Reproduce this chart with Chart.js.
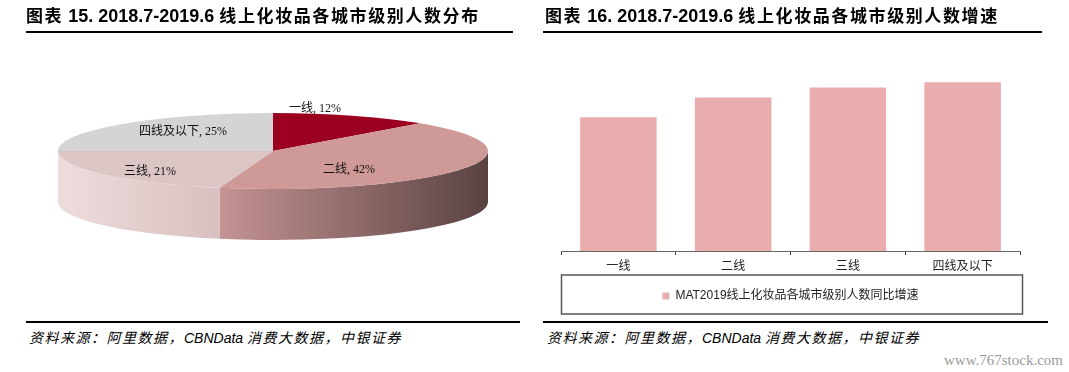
<!DOCTYPE html>
<html><head><meta charset="utf-8">
<script src="https://cdn.jsdelivr.net/npm/chart.js@4"></script>
<style>
html,body{margin:0;padding:0;background:#fff;}
body{width:1069px;height:372px;position:relative;overflow:hidden;}
.title{position:absolute;top:4px;font-size:17px;font-weight:bold;color:#000;white-space:nowrap;line-height:22px;z-index:2;}
.title .c{font-family:'Noto Sans CJK SC';letter-spacing:1.6px;}
.title .l{font-family:'Liberation Sans Narrow','Liberation Sans';font-size:18px;}
.rule{position:absolute;height:2px;background:#000;}
.src{position:absolute;top:327px;font-size:14px;font-style:italic;white-space:nowrap;line-height:20px;color:#000;}
.src .c{font-family:'Noto Sans CJK SC';letter-spacing:1.5px;}
.src .l{font-family:'Liberation Sans';}
.wm{position:absolute;right:6px;top:350px;font-family:'Liberation Serif';font-size:15px;color:#9a9a9a;line-height:20px;}
canvas{position:absolute;}
</style>
</head>
<body>
<div class="title" style="left:26px"><span class="c">图表</span><span class="l"> 15. 2018.7-2019.6 </span><span class="c">线上化妆品各城市级别人数分布</span></div>
<div class="title" style="left:545px"><span class="c">图表</span><span class="l"> 16. 2018.7-2019.6 </span><span class="c">线上化妆品各城市级别人数增速</span></div>
<div class="rule" style="left:26px;width:487px;top:31px"></div>
<div class="rule" style="left:543px;width:499px;top:31px"></div>
<div class="rule" style="left:26px;width:494px;top:321px"></div>
<div class="rule" style="left:543px;width:505px;top:321px"></div>
<div class="src" style="left:29px"><span class="c">资料来源：阿里数据，</span><span class="l">CBNData </span><span class="c">消费大数据，中银证券</span></div>
<div class="src" style="left:547px"><span class="c">资料来源：阿里数据，</span><span class="l">CBNData </span><span class="c">消费大数据，中银证券</span></div>
<div class="wm">www.767stock.com</div>
<canvas id="pie" width="546" height="302" style="left:0;top:0"></canvas>
<canvas id="bar" width="529" height="280" style="left:540px;top:40px"></canvas>
<script>
// ---- data ----
const pieCategories = ['一线', '二线', '三线', '四线及以下'];
const pieValues = [12, 42, 21, 25];
const barCategories = ['一线', '二线', '三线', '四线及以下'];
const barValues = [39.7, 45.6, 48.6, 50.1];
const barSeriesName = 'MAT2019线上化妆品各城市级别人数同比增速';

// ---- styles ----
const topColors = ['#9b0021', '#cf9997', '#dcc6c5', '#d4d4d4'];
const sideColors = [['#7a0018', '#4a0010'], ['#c59393', '#5a4242'], ['#eedcdc', '#d8c0c0'], ['#c8c8c8', '#a0a0a0']];
const labelAnchors = [[0.195, -1.1], [0.353, 0.5], [-0.572, 0.553], [-0.419, -0.5]];
const K = 38 / 215;
const DEPTH = 51;

const pie3d = {
  id: 'pie3d',
  beforeDatasetsDraw(chart) {
    const ctx = chart.ctx;
    const arcs = chart.getDatasetMeta(0).data;
    const cx = arcs[0].x, cy = arcs[0].y, rx = arcs[0].outerRadius, ry = rx * K;
    arcs.forEach((arc, i) => {
      const s = Math.max(arc.startAngle, 0), e = Math.min(arc.endAngle, Math.PI);
      if (e <= s) return;
      const cs = [Math.cos(s), Math.cos(e)];
      if (s <= 0 && e >= 0) cs.push(1);
      if (s <= Math.PI && e >= Math.PI) cs.push(-1);
      const x0 = cx + rx * Math.min(...cs), x1 = cx + rx * Math.max(...cs);
      const g = ctx.createLinearGradient(x0, 0, x1, 0);
      g.addColorStop(0, sideColors[i][0]);
      g.addColorStop(1, sideColors[i][1]);
      ctx.beginPath();
      ctx.ellipse(cx, cy, rx, ry, 0, s, e, false);
      ctx.lineTo(cx + rx * Math.cos(e), cy + ry * Math.sin(e) + DEPTH);
      ctx.ellipse(cx, cy + DEPTH, rx, ry, 0, e, s, true);
      ctx.closePath();
      ctx.fillStyle = g;
      ctx.fill();
    });
    ctx.save();
    ctx.translate(cx, cy);
    ctx.scale(1, K);
    ctx.translate(-cx, -cy);
  },
  afterDatasetsDraw(chart) {
    const ctx = chart.ctx;
    ctx.restore();
    const arcs = chart.getDatasetMeta(0).data;
    const cx = arcs[0].x, cy = arcs[0].y, rx = arcs[0].outerRadius, ry = rx * K;
    ctx.save();
    ctx.font = "12px 'Liberation Serif', 'Noto Sans CJK SC'";
    ctx.fillStyle = '#111';
    ctx.textAlign = 'center';
    ctx.textBaseline = 'middle';
    arcs.forEach((arc, i) => {
      const t = chart.data.labels[i] + ', ' + chart.data.datasets[0].data[i] + '%';
      ctx.fillText(t, cx + labelAnchors[i][0] * rx, cy + labelAnchors[i][1] * ry);
    });
    ctx.restore();
  }
};

new Chart(document.getElementById('pie'), {
  type: 'pie',
  data: {
    labels: pieCategories,
    datasets: [{ data: pieValues, backgroundColor: topColors, borderWidth: 0, clip: false }]
  },
  options: {
    responsive: false, animation: false, radius: 215,
    events: [],
    layout: { padding: 0 },
    plugins: { legend: { display: false }, tooltip: { enabled: false } }
  },
  plugins: [pie3d]
});

const legendBox = {
  id: 'legendBox',
  afterDraw(chart) {
    const lg = chart.legend, ca = chart.chartArea, ctx = chart.ctx;
    const yc = lg.top + lg.options.labels.padding + 6;
    ctx.save();
    ctx.strokeStyle = '#555';
    ctx.lineWidth = 1.5;
    ctx.strokeRect(ca.left + 0.5, yc - 21, ca.right - ca.left + 2, 39);
    ctx.restore();
  }
};

new Chart(document.getElementById('bar'), {
  type: 'bar',
  data: {
    labels: barCategories,
    datasets: [{ label: barSeriesName, data: barValues, backgroundColor: '#e8adac', borderWidth: 0,
      categoryPercentage: 1, barPercentage: 0.667 }]
  },
  options: {
    responsive: false, animation: false, events: [],
    layout: { padding: { left: 21, right: 49, top: 9, bottom: 8 } },
    scales: {
      x: {
        grid: { display: true, drawOnChartArea: false, drawTicks: true, tickLength: 4, color: '#444', offset: true },
        border: { display: true, color: '#666', width: 1 },
        ticks: { padding: 5, color: '#222', font: { family: "'Liberation Serif', 'Noto Sans CJK SC'", size: 12 } }
      },
      y: { display: false, min: 0, max: 60 }
    },
    plugins: {
      legend: {
        position: 'bottom',
        labels: { boxWidth: 7, boxHeight: 7, padding: 10.6, color: '#222',
          font: { family: "'Liberation Sans', 'Noto Sans CJK SC'", size: 12 } }
      },
      tooltip: { enabled: false }
    }
  },
  plugins: [legendBox]
});
</script>
</body></html>
